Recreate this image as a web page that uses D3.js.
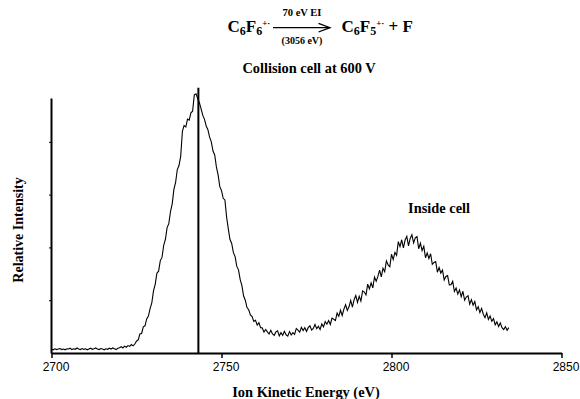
<!DOCTYPE html>
<html>
<head>
<meta charset="utf-8">
<script src="https://cdn.jsdelivr.net/npm/d3@7"></script>
<style>
  body { margin: 0; background: #fff; }
  .axis text { font-family: "Liberation Sans", Arial, sans-serif; font-size: 12px; fill: #000; }
  .axis path, .axis line { stroke: #000; }
</style>
</head>
<body>
<div id="chart"></div>
<script>
// energy grid of the scan (eV)
const energyStart = 2700;
const energyStep = 0.5;

// relative intensity, one value per 0.5 eV from 2700 eV
const intensity = [
  1.4,1.2,1.6,1.3,1.5,1.7,1.3,1.5,1.2,1.6,
  1.5,1.8,1.3,1.6,1.4,1.9,1.5,1.3,1.7,1.4,
  1.6,1.2,1.5,1.8,1.4,1.6,1.9,1.5,1.3,1.7,
  1.5,1.2,1.6,1.4,1.8,1.5,1.9,1.6,1.3,1.8,
  2.0,2.4,1.9,2.6,2.2,2.8,2.5,3.2,2.7,3.4,
  4.5,5.0,7.2,7.4,9.9,10.3,12.9,14.0,16.8,19.0,
  23.5,26.0,30.2,31.0,35.0,36.2,40.8,43.0,47.5,49.0,
  53.6,56.5,62.0,64.6,69.5,71.0,74.6,84.0,86.2,85.6,
  88.6,88.2,91.0,91.6,97.8,98.2,96.4,94.8,92.5,90.0,
  88.5,86.0,84.6,81.8,80.0,76.5,75.0,70.5,67.5,63.0,
  61.5,58.6,58.0,51.5,47.0,43.0,41.5,38.0,36.5,32.8,
  31.5,27.8,25.5,21.6,20.0,17.2,16.4,14.4,13.8,12.0,
  12.4,10.6,11.5,9.6,9.5,7.9,8.9,8.0,7.2,8.6,
  7.2,6.7,8.0,8.4,6.5,7.7,6.7,8.2,6.9,6.4,
  8.1,6.8,7.7,7.0,9.3,8.7,7.9,9.7,8.5,9.6,
  8.2,9.6,10.3,8.7,9.3,10.8,9.2,10.1,8.9,11.0,
  9.9,11.9,10.9,12.3,10.8,13.2,12.8,12.3,15.1,13.9,
  16.2,14.2,16.6,18.3,16.1,17.5,19.9,17.4,20.2,21.8,
  19.2,21.5,19.7,23.5,23.1,22.0,26.1,24.3,26.6,24.7,
  28.8,27.2,29.0,31.4,28.8,32.1,30.8,34.9,33.4,32.7,
  37.4,35.4,38.1,37.0,42.2,40.3,42.9,39.8,42.8,44.2,
  40.6,43.4,44.8,41.7,43.6,44.1,39.5,41.6,38.8,40.4,
  36.1,37.9,35.8,37.6,33.6,34.3,34.6,30.6,32.4,30.3,
  31.4,27.7,29.0,29.3,25.8,25.9,27.2,23.3,24.6,22.3,
  23.9,21.3,23.4,20.0,21.2,21.7,18.5,20.2,18.1,19.5,
  16.3,17.5,15.3,16.9,14.7,13.4,15.2,12.7,14.0,12.0,
  13.0,10.7,11.8,10.0,11.4,9.6,8.9,10.0,8.6,9.6
];

// vertical marker line (energy, height)
const markerEnergy = 2743.2;
const markerTop = 100.5;

// axis ticks
const xTicks = [2700, 2750, 2800, 2850];
const yTicks = [20, 40, 60, 80];
const xDomain = [2700, 2850];
const yDomain = [0, 96.6];

const width = 580, height = 399;
const serifFont = '"Liberation Serif", "Times New Roman", "DejaVu Serif", serif';

const svg = d3.select('#chart')
  .append('svg')
  .attr('width', width)
  .attr('height', height);

const xScale = d3.scaleLinear().domain(xDomain).range([51.5, 561.5]);
const yScale = d3.scaleLinear().domain(yDomain).range([353, 98]);

const data = intensity.map((v, i) => ({ e: energyStart + i * energyStep, v: v }));

function serifText(sel, size) {
  return sel.attr('font-family', serifFont)
    .attr('font-weight', 'bold')
    .attr('font-size', size)
    .attr('fill', '#000');
}

// title block
const title = svg.append('g');

//each part: [text, position] -> sub / sup / back to baseline
function formula(x, parts) {
  const t = serifText(title.append('text'), 17).attr('x', x).attr('y', 31.7);
  parts.forEach(p => {
    const ts = t.append('tspan').text(p[0]);
    if (p[1] === 'sub') ts.attr('dy', 3).attr('font-size', 12);
    else if (p[1] === 'sup') ts.attr('dy', -9).attr('font-size', 9);
    else if (p[1] === 'back') ts.attr('dy', 6);
    else if (p[1] === 'up') ts.attr('dy', -3);
  });
  return t;
}
formula(227.5, [['C'], ['6', 'sub'], ['F', 'up'], ['6', 'sub'], ['+·', 'sup']]);
formula(341.5, [['C'], ['6', 'sub'], ['F', 'up'], ['5', 'sub'], ['+·', 'sup'], [' + F', 'back']]);

title.append('line')
  .attr('x1', 273).attr('x2', 329.5).attr('y1', 27.7).attr('y2', 27.7)
  .attr('stroke', '#000').attr('stroke-width', 1.3);
title.append('path')
  .attr('d', 'M318.5,23.3 L330,27.7 L318.5,32')
  .attr('fill', 'none').attr('stroke', '#000').attr('stroke-width', 1.3);
serifText(title.append('text'), 10.5).attr('x', 302).attr('y', 15.7)
  .attr('text-anchor', 'middle').text('70 eV EI');
serifText(title.append('text'), 10).attr('x', 302).attr('y', 43.5)
  .attr('text-anchor', 'middle').text('(3056 eV)');
serifText(title.append('text'), 14.4).attr('x', 309).attr('y', 73)
  .attr('text-anchor', 'middle').text('Collision cell at 600 V');

// axes
const xAxis = d3.axisBottom(xScale)
  .tickValues(xTicks)
  .tickSize(5)
  .tickSizeOuter(0)
  .tickFormat(d3.format('d'));

const xAxisGroup = svg.append('g')
  .attr('class', 'axis')
  .attr('transform', 'translate(0,353)')
  .call(xAxis);
xAxisGroup.select('.domain').attr('stroke-width', 2);
xAxisGroup.selectAll('.tick line').attr('stroke-width', 1.5);
xAxisGroup.selectAll('.tick text').attr('dx', 4).attr('y', 9);

const yAxis = d3.axisLeft(yScale)
  .tickValues(yTicks)
  .tickSize(2)
  .tickSizeOuter(0)
  .tickFormat('');

const yAxisGroup = svg.append('g')
  .attr('class', 'axis')
  .attr('transform', 'translate(51,0)')
  .call(yAxis);
yAxisGroup.select('.domain').attr('stroke-width', 2);

serifText(svg.append('text'), 14)
  .attr('transform', 'translate(23,230) rotate(-90)')
  .attr('text-anchor', 'middle')
  .text('Relative Intensity');

serifText(svg.append('text'), 14.4)
  .attr('x', 306).attr('y', 397)
  .attr('text-anchor', 'middle')
  .text('Ion Kinetic Energy (eV)');

// spectrum trace
const line = d3.line()
  .x(d => xScale(d.e))
  .y(d => yScale(d.v));

svg.append('path')
  .datum(data)
  .attr('d', line)
  .attr('fill', 'none')
  .attr('stroke', '#000')
  .attr('stroke-width', 1.1);

// marker line at the precursor energy
svg.append('line')
  .attr('x1', xScale(markerEnergy)).attr('x2', xScale(markerEnergy))
  .attr('y1', yScale(0)).attr('y2', yScale(markerTop))
  .attr('stroke', '#000')
  .attr('stroke-width', 2);

serifText(svg.append('text'), 14.4)
  .attr('x', xScale(2814)).attr('y', yScale(53))
  .attr('text-anchor', 'middle')
  .text('Inside cell');
</script>
</body>
</html>
